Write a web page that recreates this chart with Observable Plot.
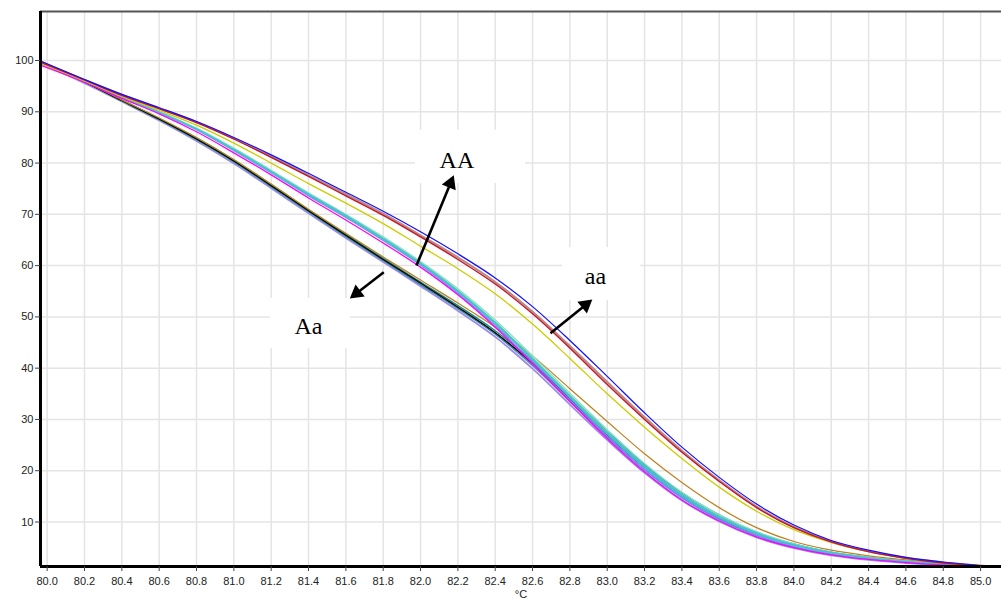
<!DOCTYPE html>
<html><head><meta charset="utf-8">
<script src="https://cdn.jsdelivr.net/npm/d3@7"></script>
<script src="https://cdn.jsdelivr.net/npm/@observablehq/plot@0.6"></script>
<style>
html,body{margin:0;padding:0;background:#fff;}
#chart svg{display:block;}
</style></head><body><div id="chart"></div>
<script>
// Temperature grid (°C)
const temps = [79.97, 80.2, 80.4, 80.6, 80.8, 81.0, 81.2, 81.4, 81.6, 81.8, 82.0, 82.2, 82.4, 82.6, 82.8, 83.0, 83.2, 83.4, 83.6, 83.8, 84.0, 84.2, 84.4, 84.6, 84.8, 85.03];
const xTicks = [80.0, 80.2, 80.4, 80.6, 80.8, 81.0, 81.2, 81.4, 81.6, 81.8, 82.0, 82.2, 82.4, 82.6, 82.8, 83.0, 83.2, 83.4, 83.6, 83.8, 84.0, 84.2, 84.4, 84.6, 84.8, 85.0];
const yTicks = [10, 20, 30, 40, 50, 60, 70, 80, 90, 100];
const xDomain = [79.9643, 85.112];
const yDomain = [1.32, 109.56];

// Genotype Aa (lowest early)
const Aa_purple     = [99.4, 95.6, 92.0, 88.3, 84.3, 79.9, 75.1, 70.2, 65.4, 60.7, 56.0, 51.2, 46.1, 39.9, 32.9, 26.0, 19.6, 14.2, 10.1, 7.0, 4.9, 3.5, 2.6, 2.0, 1.6, 1.3];
const Aa_steel      = [99.8, 95.9, 92.2, 88.5, 84.6, 80.2, 75.4, 70.5, 65.7, 61.0, 56.3, 51.6, 46.6, 40.5, 33.5, 26.6, 20.2, 14.8, 10.5, 7.4, 5.2, 3.8, 2.9, 2.2, 1.7, 1.3];
const Aa_green      = [99.6, 95.8, 92.1, 88.5, 84.6, 80.3, 75.5, 70.6, 65.8, 61.1, 56.5, 51.8, 46.9, 41.0, 34.1, 27.2, 20.8, 15.3, 11.0, 7.8, 5.5, 4.0, 3.0, 2.3, 1.8, 1.3];
const Aa_teal       = [99.7, 95.9, 92.3, 88.7, 84.9, 80.6, 75.8, 70.9, 66.1, 61.4, 56.8, 52.2, 47.3, 41.4, 34.6, 27.7, 21.2, 15.7, 11.4, 8.0, 5.7, 4.1, 3.1, 2.4, 1.8, 1.3];
const Aa_black      = [99.6, 95.8, 92.2, 88.6, 84.7, 80.4, 75.6, 70.7, 65.9, 61.2, 56.6, 51.9, 46.9, 40.9, 34.0, 27.0, 20.6, 15.1, 10.8, 7.6, 5.4, 3.9, 3.0, 2.3, 1.8, 1.3];
const Aa_gold       = [99.5, 95.9, 92.3, 88.8, 85.0, 80.7, 75.9, 71.0, 66.3, 61.7, 57.2, 52.7, 48.0, 42.4, 36.0, 29.6, 23.3, 17.7, 12.8, 8.9, 6.2, 4.5, 3.4, 2.6, 1.9, 1.3];
// Genotype AA (middle early)
const AA_cornflower = [99.5, 96.0, 92.7, 89.8, 86.5, 82.4, 78.1, 73.6, 69.4, 64.9, 60.1, 54.6, 48.3, 41.2, 33.8, 26.7, 20.2, 14.7, 10.5, 7.4, 5.2, 3.8, 2.8, 2.2, 1.7, 1.3];
const AA_sky        = [99.7, 96.1, 92.8, 89.9, 86.6, 82.6, 78.2, 73.8, 69.6, 65.1, 60.3, 54.9, 48.6, 41.6, 34.2, 27.1, 20.6, 15.0, 10.8, 7.6, 5.3, 3.9, 2.9, 2.2, 1.7, 1.3];
const AA_lightgreen = [99.5, 96.1, 92.8, 89.9, 86.7, 82.7, 78.4, 74.0, 69.8, 65.4, 60.6, 55.2, 49.0, 42.0, 34.7, 27.6, 21.0, 15.4, 11.1, 7.9, 5.6, 4.0, 3.0, 2.3, 1.8, 1.3];
const AA_aquamarine = [99.6, 96.2, 92.9, 90.0, 86.8, 82.9, 78.6, 74.2, 70.0, 65.6, 60.8, 55.5, 49.4, 42.4, 35.1, 28.0, 21.4, 15.8, 11.4, 8.1, 5.7, 4.1, 3.1, 2.4, 1.8, 1.3];
const AA_turquoise  = [99.6, 96.1, 92.8, 89.9, 86.6, 82.6, 78.3, 73.9, 69.7, 65.2, 60.4, 55.0, 48.8, 41.8, 34.5, 27.4, 20.9, 15.3, 11.0, 7.8, 5.5, 4.0, 3.0, 2.3, 1.8, 1.3];
const AA_magenta    = [99.0, 95.8, 92.6, 89.6, 86.1, 82.0, 77.7, 73.2, 68.9, 64.4, 59.7, 54.3, 48.0, 40.9, 33.5, 26.3, 19.8, 14.3, 10.2, 7.1, 5.0, 3.6, 2.7, 2.1, 1.6, 1.3];
// Genotype aa (highest)
const aa_yellow     = [99.4, 96.0, 93.0, 90.3, 87.4, 83.9, 80.0, 76.0, 72.2, 68.2, 63.8, 59.4, 54.5, 48.6, 41.9, 35.0, 28.5, 22.4, 16.8, 12.1, 8.5, 6.0, 4.2, 2.9, 2.0, 1.4];
const aa_rosy       = [99.7, 96.2, 93.3, 90.7, 88.0, 84.8, 81.3, 77.6, 73.9, 70.1, 65.9, 61.6, 56.8, 51.0, 44.3, 37.3, 30.4, 23.9, 18.1, 13.0, 9.0, 6.2, 4.3, 3.0, 2.1, 1.4];
const aa_red        = [99.6, 96.2, 93.2, 90.6, 87.9, 84.7, 81.1, 77.4, 73.6, 69.8, 65.6, 61.2, 56.4, 50.6, 43.9, 36.8, 30.0, 23.6, 17.9, 12.8, 8.9, 6.1, 4.2, 2.9, 2.0, 1.4];
const aa_blue       = [99.8, 96.3, 93.4, 90.8, 88.1, 85.0, 81.6, 78.0, 74.3, 70.6, 66.6, 62.3, 57.6, 52.0, 45.4, 38.4, 31.3, 24.6, 18.7, 13.5, 9.4, 6.4, 4.5, 3.1, 2.2, 1.4];

const seriesList = [
  {name: "Aa purple", values: Aa_purple, color: "#9a8ce8", width: 1.8},
  {name: "Aa steel", values: Aa_steel, color: "#3f80c0", width: 1.3},
  {name: "Aa green", values: Aa_green, color: "#2e8b57", width: 1.2},
  {name: "Aa teal", values: Aa_teal, color: "#108888", width: 1.4},
  {name: "Aa black", values: Aa_black, color: "#000000", width: 1.2},
  {name: "Aa gold", values: Aa_gold, color: "#c08020", width: 1.2},
  {name: "AA cornflower", values: AA_cornflower, color: "#6a8ee8", width: 1.2},
  {name: "AA sky", values: AA_sky, color: "#5ab0e8", width: 1.4},
  {name: "AA lightgreen", values: AA_lightgreen, color: "#8fe08f", width: 1.2},
  {name: "AA aquamarine", values: AA_aquamarine, color: "#88e0c8", width: 1.4},
  {name: "AA turquoise", values: AA_turquoise, color: "#48c0d0", width: 2},
  {name: "AA magenta", values: AA_magenta, color: "#ff00ff", width: 1.3},
  {name: "aa yellow", values: aa_yellow, color: "#cccc00", width: 1.3},
  {name: "aa rosy", values: aa_rosy, color: "#b88a8a", width: 2.2},
  {name: "aa red", values: aa_red, color: "#cc1122", width: 1.3},
  {name: "aa blue", values: aa_blue, color: "#1010ff", width: 1.2}
];

// Annotations (data units)
const labelTexts = ["AA", "aa", "Aa"];
const labelX = [82.195, 82.937, 81.400];
const labelY = [80.6, 58.0, 48.1];
const arrowStartX = [81.978, 82.696, 81.803];
const arrowStartY = [60.0, 46.8, 58.7];
const arrowTipX = [82.178, 82.920, 81.621];
const arrowTipY = [77.6, 53.4, 53.6];
const boxX1 = [81.973, 82.761, 81.196];
const boxX2 = [82.562, 83.179, 81.625];
const boxY1 = [76.0, 53.2, 43.8];
const boxY2 = [86.4, 63.5, 53.6];

const W = 1001, H = 599, mL = 40, mR = 0, mT = 11, mB = 33;
const sx = Plot.scale({x: {domain: xDomain, range: [mL, W - mR]}});
const sy = Plot.scale({y: {domain: yDomain, range: [H - mB, mT]}});

const headR = 5.6, headOff = 8.7;
const arrows = labelTexts.map((t, i) => {
  const p0 = [sx.apply(arrowStartX[i]), sy.apply(arrowStartY[i])];
  const p1 = [sx.apply(arrowTipX[i]), sy.apply(arrowTipY[i])];
  const dx = p1[0] - p0[0], dy = p1[1] - p0[1];
  const len = Math.hypot(dx, dy);
  const ux = dx / len, uy = dy / len;
  return {
    x1: arrowStartX[i], y1: arrowStartY[i],
    x2: sx.invert(p1[0] - ux * (headOff + 2)), y2: sy.invert(p1[1] - uy * (headOff + 2)),
    hx: sx.invert(p1[0] - ux * headOff), hy: sy.invert(p1[1] - uy * headOff),
    rot: Math.atan2(ux, -uy) * 180 / Math.PI
  };
});
const labels = labelTexts.map((t, i) => ({text: t, x: labelX[i], y: labelY[i]}));
const boxes = labelTexts.map((t, i) => ({x1: boxX1[i], x2: boxX2[i], y1: boxY1[i], y2: boxY2[i]}));

const lineMarks = seriesList.map(s =>
  Plot.line(temps.map((t, i) => ({T: t, v: s.values[i]})), {
    x: "T", y: "v", stroke: s.color, strokeWidth: s.width, curve: "catmull-rom"
  })
);

const chart = Plot.plot({
  width: W, height: H,
  marginLeft: mL, marginRight: mR, marginTop: mT, marginBottom: mB,
  x: {domain: xDomain},
  y: {domain: yDomain},
  style: {fontFamily: "'Liberation Sans Narrow', 'Liberation Sans', Arial, sans-serif", fontSize: "11px", color: "#222", background: "#fff", overflow: "visible"},
  marks: [
    Plot.gridX(xTicks, {stroke: "#e4e4e4", strokeOpacity: 1, strokeWidth: 1.5}),
    Plot.gridY(yTicks, {stroke: "#e4e4e4", strokeOpacity: 1, strokeWidth: 1.5}),
    Plot.rect(boxes, {x1: "x1", x2: "x2", y1: "y1", y2: "y2", fill: "white"}),
    ...lineMarks,
    Plot.link(arrows, {x1: "x1", y1: "y1", x2: "x2", y2: "y2", stroke: "black", strokeWidth: 2.6}),
    Plot.dot(arrows, {x: "hx", y: "hy", symbol: "triangle", r: headR, fill: "black", stroke: "none", rotate: "rot"}),
    Plot.text(labels, {x: "x", y: "y", text: "text", fontFamily: "'Liberation Serif', 'Times New Roman', serif", fontSize: 24, fill: "black"}),
    Plot.ruleY([yDomain[1]], {stroke: "#555", strokeWidth: 2}),
    Plot.ruleX([xDomain[0]], {stroke: "black", strokeWidth: 3}),
    Plot.ruleY([yDomain[0]], {stroke: "black", strokeWidth: 3}),
    Plot.axisX(xTicks, {tickSize: 5, tickPadding: 6, tickFormat: d3.format(".1f"), label: null, stroke: "#444"}),
    Plot.axisY(yTicks, {tickSize: 5, tickPadding: 2, tickFormat: d3.format("d"), label: null, stroke: "#444"}),
    Plot.text(["°C"], {frameAnchor: "bottom", dy: 24, lineAnchor: "top", fontSize: 11, fill: "#222"})
  ]
});
document.getElementById("chart").appendChild(chart);
</script>
</body></html>
